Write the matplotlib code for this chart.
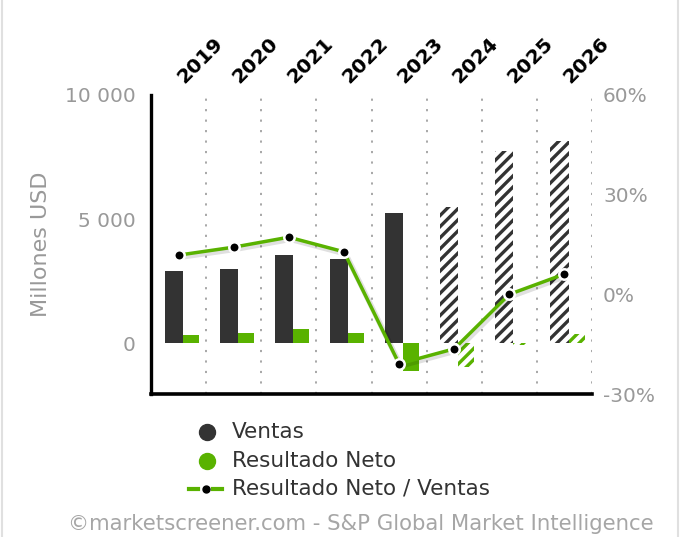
import matplotlib
matplotlib.use("Agg")
import matplotlib.pyplot as plt
import matplotlib.patheffects as pe
from matplotlib.lines import Line2D
import numpy as np

years = ["2019", "2020", "2021", "2022", "2023", "2024", "2025", "2026"]
ventas = [2900, 3000, 3550, 3390, 5250, 5500, 7750, 8160]
resultado_neto = [310, 390, 550, 390, -1120, -960, -80, 380]
ratio_pct = [11.8, 14.2, 17.2, 12.8, -20.9, -16.4, 0.0, 6.1]
forecast = [False, False, False, False, False, True, True, True]

left_ticks = [0, 5000, 10000]
left_labels = ["0", "5 000", "10 000"]
right_ticks = [-30, 0, 30, 60]
right_labels = ["-30%", "0%", "30%", "60%"]

DARK = "#333333"
GREEN = "#59b200"
GRAY = "#999999"

plt.rcParams["font.family"] = ["DejaVu Sans"]
plt.rcParams["hatch.linewidth"] = 2.4

W, H = 680, 537
fig = plt.figure(figsize=(W / 100, H / 100), dpi=100)
fig.patch.set_facecolor("white")

def fx(px):
    return px / W

def fy(py):
    return 1 - py / H

ax = fig.add_axes([fx(151), fy(394), fx(592) - fx(151), fy(95) - fy(394)])
ax.set_xlim(-0.5, 7.5)
ax.set_ylim(-2056, 10000)

x = np.arange(len(years))
for i in range(len(years)):
    if forecast[i]:
        ax.bar(x[i] - 0.255, ventas[i], width=0.33, align="edge", facecolor="white",
               edgecolor=DARK, hatch="///", linewidth=0, zorder=2)
        ax.bar(x[i] + 0.075, resultado_neto[i], width=0.29, align="edge", facecolor="white",
               edgecolor=GREEN, hatch="///", linewidth=0, zorder=2)
    else:
        ax.bar(x[i] - 0.255, ventas[i], width=0.33, align="edge", color=DARK,
               linewidth=0, zorder=2)
        ax.bar(x[i] + 0.075, resultado_neto[i], width=0.29, align="edge", color=GREEN,
               linewidth=0, zorder=2)

for b in np.arange(0.5, 8, 1.0):
    ax.axvline(b, color="#a0a0a0", linestyle=(0, (1.2, 4.6)), linewidth=1.3, zorder=1)

for s in ["top", "right"]:
    ax.spines[s].set_visible(False)
ax.spines["left"].set_linewidth(2.4)
ax.spines["bottom"].set_linewidth(2.6)
ax.spines["left"].set_color("black")
ax.spines["bottom"].set_color("black")

ax.set_yticks(left_ticks)
ax.set_yticklabels(left_labels)
ax.tick_params(axis="y", length=0, pad=11, labelsize=14.5, labelcolor=GRAY)
ax.set_ylabel("Millones USD", color=GRAY, fontsize=16, labelpad=10)

ax.xaxis.tick_top()
ax.set_xticks(x + 0.15)
ax.set_xticklabels(years, rotation=45, ha="left", va="bottom", rotation_mode="anchor",
                   fontweight="bold", fontsize=14.5, color="black")
ax.tick_params(axis="x", length=0, pad=6)

ax2 = ax.twinx()
ax2.set_ylim(-30, 60)
ax2.set_xlim(-0.5, 7.5)
for s in ["top", "right", "left", "bottom"]:
    ax2.spines[s].set_visible(False)
ax2.set_yticks(right_ticks)
ax2.set_yticklabels(right_labels)
ax2.tick_params(axis="y", length=0, pad=8, labelsize=14.5, labelcolor=GRAY)

ax2.plot(x, ratio_pct, color=GREEN, linewidth=2.5, zorder=3,
         path_effects=[pe.SimpleLineShadow(offset=(1.2, -1.5), shadow_color="black",
                                           alpha=0.12, linewidth=4), pe.Normal()])
ax2.plot(x, ratio_pct, linestyle="none", marker="o", markersize=7.5,
         markerfacecolor="black", markeredgecolor="white", markeredgewidth=1.8, zorder=4)

# Legend (manual, figure pixel coordinates)
rows = [432, 461, 489]
fig.add_artist(Line2D([fx(207)], [fy(rows[0])], marker="o", markersize=11.5,
                      color=DARK, linestyle="none"))
fig.add_artist(Line2D([fx(207)], [fy(rows[1])], marker="o", markersize=11.5,
                      color=GREEN, linestyle="none"))
fig.add_artist(Line2D([fx(189), fx(198)], [fy(rows[2])] * 2, color=GREEN, linewidth=3))
fig.add_artist(Line2D([fx(213), fx(222)], [fy(rows[2])] * 2, color=GREEN, linewidth=3))
fig.add_artist(Line2D([fx(206)], [fy(rows[2])], marker="o", markersize=5,
                      color="black", linestyle="none"))
legend_texts = ["Ventas", "Resultado Neto", "Resultado Neto / Ventas"]
for r, t in zip(rows, legend_texts):
    fig.text(fx(232), fy(r), t, fontsize=15.5, color="#333333", ha="left", va="center")

fig.text(fx(361), fy(524), "\u00a9marketscreener.com - S&P Global Market Intelligence",
         fontsize=15.3, color="#a6a6a6", ha="center", va="center")

# faint frame lines at left and right edges
fig.add_artist(Line2D([fx(2), fx(2)], [0, 1], color="#e0e0e0", linewidth=1.5))
fig.add_artist(Line2D([fx(677.5), fx(677.5)], [0, 1], color="#e0e0e0", linewidth=1.5))

fig.savefig("out.png", dpi=100, facecolor="white")
